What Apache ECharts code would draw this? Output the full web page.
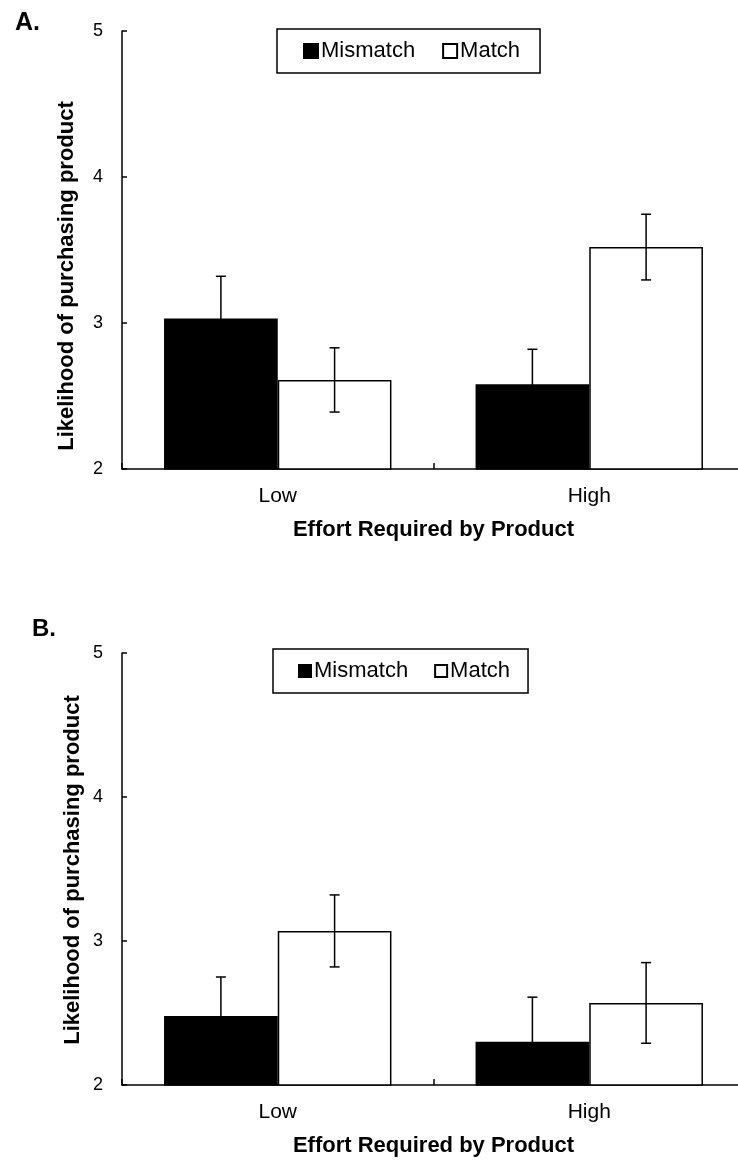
<!DOCTYPE html>
<html>
<head>
<meta charset="utf-8">
<script src="https://cdn.jsdelivr.net/npm/echarts@6/dist/echarts.min.js"></script>
<style>
html,body{margin:0;padding:0;background:#fff;}
#chart{width:738px;height:1163px;}
</style>
</head>
<body>
<div id="chart"></div>
<script>
// ---- data ----
const categories = ['Low', 'High'];
const seriesNames = ['Mismatch', 'Match'];
const yTicks = [2, 3, 4, 5];

const A_mismatch = [3.03, 2.58];
const A_match = [2.61, 3.52];
const A_mismatchErr = [0.29, 0.24];
const A_matchErr = [0.22, 0.225];

const B_mismatch = [2.48, 2.30];
const B_match = [3.07, 2.57];
const B_mismatchErr = [0.27, 0.31];
const B_matchErr = [0.25, 0.28];

const panelTitles = ['A.', 'B.'];
const yName = 'Likelihood of purchasing product';
const xName = 'Effort Required by Product';

// ---- chart ----
const FONT = 'Liberation Sans, Arial, sans-serif';
const CAT_GAP = 0.27;
const chart = echarts.init(document.getElementById('chart'), null, {renderer: 'canvas'});

function errRender(sign) {
  return function (params, api) {
    const idx = api.value(0), v = api.value(1), e = api.value(2);
    const band = api.size([1, 0])[0];
    const bw = band * (1 - CAT_GAP) / 2;
    const x = api.coord([idx, v])[0] + sign * bw / 2;
    const yt = api.coord([idx, v + e])[1];
    const yb = api.coord([idx, v - e])[1];
    const cap = 5;
    const st = {stroke: '#000', lineWidth: 1.5};
    return {
      type: 'group',
      children: [
        {type: 'line', shape: {x1: x, y1: yt, x2: x, y2: yb}, style: st},
        {type: 'line', shape: {x1: x - cap, y1: yt, x2: x + cap, y2: yt}, style: st},
        {type: 'line', shape: {x1: x - cap, y1: yb, x2: x + cap, y2: yb}, style: st}
      ]
    };
  };
}

const grids = [
  {left: 122, width: 623, top: 31, height: 438, outerBoundsMode: 'none', containLabel: false},
  {left: 122, width: 623, top: 653, height: 432, outerBoundsMode: 'none', containLabel: false}
];

function xAxisFor(i) {
  return {
    type: 'category', gridIndex: i, data: categories,
    axisLine: {lineStyle: {color: '#000', width: 1.5}},
    axisTick: {show: true, interval: 0, inside: true, length: 6, lineStyle: {color: '#000', width: 1.5}},
    axisLabel: {color: '#000', fontSize: 21, fontFamily: FONT, margin: 17},
    name: xName, nameLocation: 'middle', nameGap: 50,
    nameTextStyle: {color: '#000', fontSize: 22, fontWeight: 'bold', fontFamily: FONT},
    splitLine: {show: false}
  };
}
function yAxisFor(i) {
  return {
    type: 'value', gridIndex: i, min: yTicks[0], max: yTicks[yTicks.length - 1], interval: 1,
    axisLine: {show: true, lineStyle: {color: '#000', width: 1.5}},
    axisTick: {show: true, inside: true, length: 5, lineStyle: {color: '#000', width: 1.5}},
    axisLabel: {color: '#000', fontSize: 18, fontFamily: FONT, margin: 19},
    splitLine: {show: false}
  };
}

function panelSeries(i, mm, ma, mmErr, maErr) {
  return [
    {
      name: seriesNames[0], type: 'bar', xAxisIndex: i, yAxisIndex: i, data: mm,
      barGap: '0%', barCategoryGap: (CAT_GAP * 100) + '%',
      itemStyle: {color: '#000', borderColor: '#000', borderWidth: 1.5},
      emphasis: {disabled: true}
    },
    {
      name: seriesNames[1], type: 'bar', xAxisIndex: i, yAxisIndex: i, data: ma,
      barGap: '0%', barCategoryGap: (CAT_GAP * 100) + '%',
      itemStyle: {color: '#fff', borderColor: '#000', borderWidth: 1.5},
      emphasis: {disabled: true}
    },
    {
      name: 'errMismatch' + i, type: 'custom', xAxisIndex: i, yAxisIndex: i, z: 5, clip: true,
      renderItem: errRender(-1), encode: {x: 0, y: 1},
      data: categories.map((c, k) => [k, mm[k], mmErr[k]])
    },
    {
      name: 'errMatch' + i, type: 'custom', xAxisIndex: i, yAxisIndex: i, z: 5, clip: true,
      renderItem: errRender(1), encode: {x: 0, y: 1},
      data: categories.map((c, k) => [k, ma[k], maErr[k]])
    }
  ];
}

function legendFor(left, top, iconSize, gap, pad) {
  return {
    data: seriesNames, left: left, top: top, orient: 'horizontal',
    icon: 'rect', itemWidth: iconSize, itemHeight: iconSize, itemGap: gap,
    padding: pad, borderColor: '#000', borderWidth: 1.5, backgroundColor: '#fff',
    textStyle: {color: '#000', fontSize: 22, fontFamily: FONT, padding: [0, 0, 0, -2]},
    selectedMode: false
  };
}

function yNameText(x, y) {
  return {
    type: 'text', x: x, y: y, rotation: Math.PI / 2,
    style: {
      text: yName, fill: '#000', fontSize: 22, fontWeight: 'bold', fontFamily: FONT,
      align: 'center', verticalAlign: 'middle'
    }
  };
}

const option = {
  backgroundColor: '#fff',
  animation: false,
  title: [
    {text: panelTitles[0], left: 10, top: 6, textStyle: {fontSize: 25, fontWeight: 'bold', color: '#000', fontFamily: FONT}},
    {text: panelTitles[1], left: 27, top: 612, textStyle: {fontSize: 24, fontWeight: 'bold', color: '#000', fontFamily: FONT}}
  ],
  legend: [
    legendFor(277, 29, 14, 27, [11, 20, 11, 26]),
    legendFor(273, 649, 12, 26, [11, 18, 11, 25])
  ],
  graphic: [
    yNameText(67, 276),
    yNameText(73, 870)
  ],
  grid: grids,
  xAxis: [xAxisFor(0), xAxisFor(1)],
  yAxis: [yAxisFor(0), yAxisFor(1)],
  series: [
    ...panelSeries(0, A_mismatch, A_match, A_mismatchErr, A_matchErr),
    ...panelSeries(1, B_mismatch, B_match, B_mismatchErr, B_matchErr)
  ]
};
chart.setOption(option);
</script>
</body>
</html>
